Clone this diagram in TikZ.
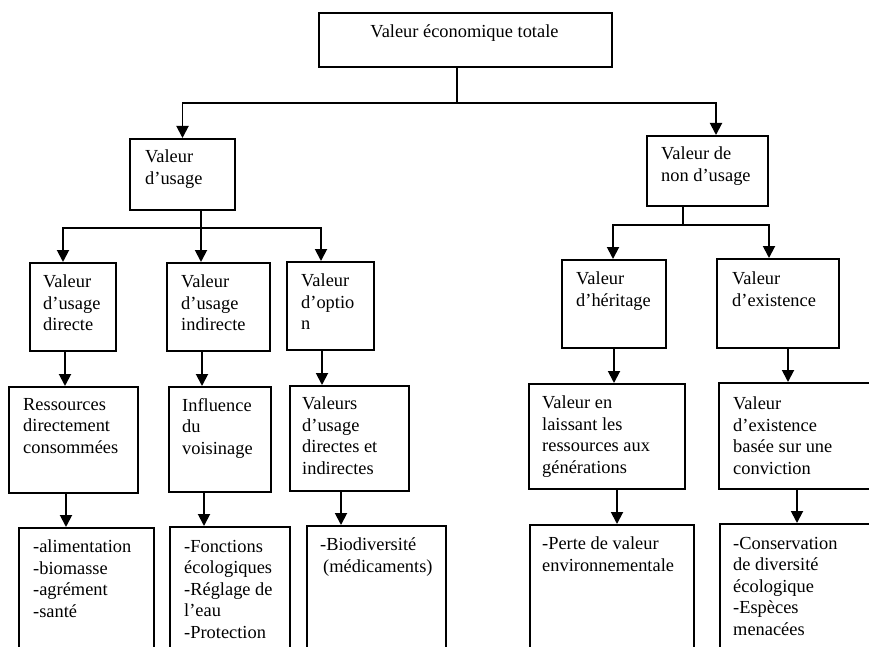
\documentclass[tikz,border=0pt]{standalone}
\usepackage{fontspec}
\setmainfont{Liberation Serif}
\usetikzlibrary{arrows.meta,calc}
\begin{document}
\begin{tikzpicture}[x=1pt,y=-1pt,
  box/.style={draw,line width=2pt,inner sep=0pt,anchor=north west,rectangle},
  txt/.style={anchor=north west,inner sep=0pt,align=left,font=\fontsize{18.4}{21.5}\selectfont},
  conn/.style={line width=1.9pt},
  arr/.style={line width=1.9pt,-{Triangle[width=12pt,length=12pt]}}]
\useasboundingbox (0,0) rectangle (869,647);
\fill[white] (0,0) rectangle (869,647);
\clip (0,0) rectangle (869,647);
% boxes
\node[box,minimum width=293,minimum height=54] (top) at (318,12) {};
\node[box,minimum width=105,minimum height=71] (usage) at (129,138) {};
\node[box,minimum width=121,minimum height=70] (nonusage) at (646,135) {};
\node[box,minimum width=86,minimum height=88] (dir) at (29,262) {};
\node[box,minimum width=103,minimum height=88] (ind) at (166,262) {};
\node[box,minimum width=87,minimum height=88] (opt) at (286,261) {};
\node[box,minimum width=104,minimum height=88] (her) at (561,259) {};
\node[box,minimum width=122,minimum height=89] (exi) at (716,258) {};
\node[box,minimum width=129,minimum height=106] (ress) at (8,386) {};
\node[box,minimum width=102,minimum height=105] (infl) at (168,386) {};
\node[box,minimum width=119,minimum height=105] (vals) at (289,385) {};
\node[box,minimum width=156,minimum height=105] (lais) at (528,383) {};
\node[box,minimum width=182,minimum height=106] (conv) at (718,382) {};
\node[box,minimum width=135,minimum height=173] (alim) at (18,527) {};
\node[box,minimum width=120,minimum height=174] (fonc) at (169,526) {};
\node[box,minimum width=139,minimum height=175] (bio) at (306,525) {};
\node[box,minimum width=164,minimum height=176] (perte) at (529,524) {};
\node[box,minimum width=181,minimum height=177] (cons) at (719,523) {};
% texts
\node[txt,anchor=north] (t-top) at ($(top.north)+(-1,13)$) {Valeur économique totale};
\node[txt] (t-usage) at ($(usage.north west)+(16,12)$) {Valeur\\d’usage};
\node[txt] (t-nonusage) at ($(nonusage.north west)+(15,12)$) {Valeur de\\non d’usage};
\node[txt] (t-dir) at ($(dir.north west)+(14,13)$) {Valeur\\d’usage\\directe};
\node[txt] (t-ind) at ($(ind.north west)+(15,13)$) {Valeur\\d’usage\\indirecte};
\node[txt] (t-opt) at ($(opt.north west)+(15,13)$) {Valeur\\d’optio\\n};
\node[txt] (t-her) at ($(her.north west)+(15,13)$) {Valeur\\d’héritage};
\node[txt] (t-exi) at ($(exi.north west)+(16,14)$) {Valeur\\d’existence};
\node[txt] (t-ress) at ($(ress.north west)+(15,12)$) {Ressources\\directement\\consommées};
\node[txt] (t-infl) at ($(infl.north west)+(14,12)$) {Influence\\du\\voisinage};
\node[txt] (t-vals) at ($(vals.north west)+(13,12)$) {Valeurs\\d’usage\\directes et\\indirectes};
\node[txt] (t-lais) at ($(lais.north west)+(14,13)$) {Valeur en\\laissant les\\ressources aux\\générations};
\node[txt] (t-conv) at ($(conv.north west)+(15,15)$) {Valeur\\d’existence\\basée sur une\\conviction};
\node[txt] (t-alim) at ($(alim.north west)+(15,13)$) {-alimentation\\-biomasse\\-agrément\\-santé};
\node[txt] (t-fonc) at ($(fonc.north west)+(15,14)$) {-Fonctions\\écologiques\\-Réglage de\\l’eau\\-Protection};
\node[txt] (t-bio) at ($(bio.north west)+(14,13)$) {-Biodiversité\\\hspace{3pt}(médicaments)};
\node[txt] (t-perte) at ($(perte.north west)+(13,13)$) {-Perte de valeur\\environnementale};
\node[txt] (t-cons) at ($(cons.north west)+(14,14)$) {-Conservation\\de diversité\\écologique\\-Espèces\\menacées};
% tree connectors
\draw[conn] ([xshift=-8.5pt]top.south) -- ++(0,35) coordinate (jT);
\draw[arr] (jT) -| (usage.north);
\draw[arr] (jT) -| ([xshift=8.5pt]nonusage.north);
\draw[conn] ([xshift=18.5pt]usage.south) -- ++(0,17) coordinate (jU);
\draw[arr] (jU) -| ([xshift=-10pt]dir.north);
\draw[arr] (jU) -- ([xshift=-17.5pt]ind.north);
\draw[arr] (jU) -| ([xshift=-9.5pt]opt.north);
\draw[conn] ([xshift=-24.5pt]nonusage.south) -- ++(0,18) coordinate (jN);
\draw[arr] (jN) -| ([xshift=-1pt]her.north);
\draw[arr] (jN) -| ([xshift=-9pt]exi.north);
% vertical arrows
\draw[arr] ([xshift=-8.5pt]ress.north |- dir.south) -- ([xshift=-8.5pt]ress.north);
\draw[arr] ([xshift=-18pt]infl.north |- ind.south) -- ([xshift=-18pt]infl.north);
\draw[arr] ([xshift=-27.5pt]vals.north |- opt.south) -- ([xshift=-27.5pt]vals.north);
\draw[arr] ([xshift=-20.5pt]alim.north |- ress.south) -- ([xshift=-20.5pt]alim.north);
\draw[arr] ([xshift=-26pt]fonc.north |- infl.south) -- ([xshift=-26pt]fonc.north);
\draw[arr] ([xshift=-35.5pt]bio.north |- vals.south) -- ([xshift=-35.5pt]bio.north);
\draw[arr] ([xshift=7pt]lais.north |- her.south) -- ([xshift=7pt]lais.north);
\draw[arr] ([xshift=-22pt]conv.north |- exi.south) -- ([xshift=-22pt]conv.north);
\draw[arr] ([xshift=5pt]perte.north |- lais.south) -- ([xshift=5pt]perte.north);
\draw[arr] ([xshift=-13.5pt]cons.north |- conv.south) -- ([xshift=-13.5pt]cons.north);
\end{tikzpicture}
\end{document}
